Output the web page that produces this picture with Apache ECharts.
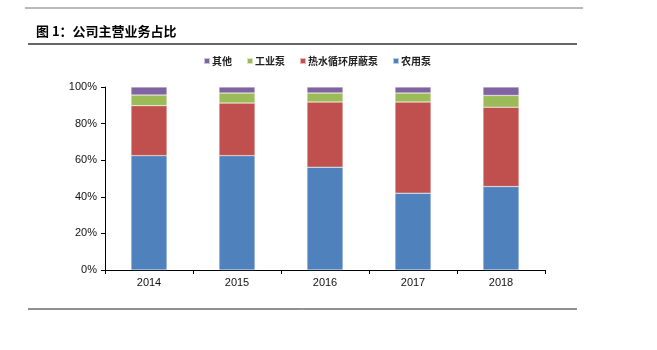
<!DOCTYPE html>
<html>
<head>
<meta charset="utf-8">
<script src="https://cdn.jsdelivr.net/npm/echarts@6/dist/echarts.min.js"></script>
<style>
  html, body { margin: 0; padding: 0; background: #fff; }
  #chart { width: 657px; height: 350px; }
</style>
</head>
<body>
<div id="chart"></div>
<script>
// Main business revenue share by product line, 2014-2018 (%)
const years = ['2014', '2015', '2016', '2017', '2018'];
const agriPump = [62.5, 62.5, 56.2, 42.0, 45.6];      // 农用泵
const hotWaterPump = [27.3, 28.7, 35.6, 49.8, 43.4];  // 热水循环屏蔽泵
const industrialPump = [5.8, 5.5, 4.9, 4.9, 6.4];     // 工业泵
const others = [4.4, 3.3, 3.3, 3.3, 4.6];             // 其他
const yTicks = [0, 20, 40, 60, 80, 100];

const chart = echarts.init(document.getElementById('chart'));
const labelFont = { fontFamily: 'Liberation Sans, Arial, sans-serif', fontSize: 11, color: '#111' };

function barSeries(name, data, color) {
  return {
    name, type: 'bar', stack: 'total', data,
    barWidth: 36,
    itemStyle: { color, borderColor: 'rgba(255,255,255,0.6)', borderWidth: 0.5 }
  };
}

chart.setOption({
  animation: false,
  grid: { left: 105, right: 112, top: 87, bottom: 80, containLabel: false },
  legend: {
    data: ['其他', '工业泵', '热水循环屏蔽泵', '农用泵'],
    left: 198, top: 51,
    itemWidth: 6, itemHeight: 6, itemGap: 14,
    icon: 'rect',
    textStyle: { fontFamily: 'Noto Sans CJK SC', fontSize: 10, fontWeight: 'bold', color: '#222', padding: [0, 0, 0, -3] }
  },
  xAxis: {
    type: 'category', data: years,
    axisLine: { lineStyle: { color: '#000', width: 1 } },
    axisTick: { show: true, length: 4, lineStyle: { color: '#000' } },
    axisLabel: Object.assign({ margin: 7 }, labelFont)
  },
  yAxis: {
    type: 'value', min: yTicks[0], max: yTicks[yTicks.length - 1], interval: 20,
    axisLine: { show: true, lineStyle: { color: '#000', width: 1 } },
    axisTick: { show: true, length: 4, lineStyle: { color: '#000' } },
    splitLine: { show: false },
    axisLabel: Object.assign({ margin: 8, formatter: v => v + '%' }, labelFont)
  },
  series: [
    barSeries('农用泵', agriPump, '#4F81BD'),
    barSeries('热水循环屏蔽泵', hotWaterPump, '#C0504D'),
    barSeries('工业泵', industrialPump, '#9BBB59'),
    barSeries('其他', others, '#8064A2')
  ],
  graphic: [
    { type: 'line', shape: { x1: 25, y1: 8, x2: 583, y2: 8 }, style: { stroke: '#777', lineWidth: 1 } },
    { type: 'text', left: 36, top: 25,
      style: { text: '图 1：公司主营业务占比', font: 'bold 13px "Noto Sans CJK SC"', fill: '#000' } },
    { type: 'line', shape: { x1: 28, y1: 44, x2: 577, y2: 44 }, style: { stroke: '#666', lineWidth: 2 } },
    { type: 'line', shape: { x1: 28, y1: 309, x2: 577, y2: 309 }, style: { stroke: '#222', lineWidth: 1 } }
  ]
});
</script>
</body>
</html>
